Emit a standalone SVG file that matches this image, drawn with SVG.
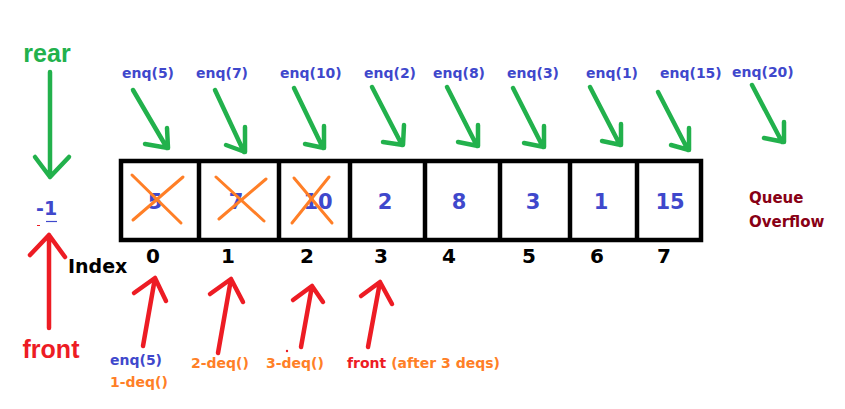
<svg xmlns="http://www.w3.org/2000/svg" width="845" height="409" viewBox="0 0 845 409">
<style>
.dv{font-family:"DejaVu Sans",sans-serif;font-weight:bold}
.lb{font-family:"Liberation Sans",Arial,sans-serif;font-weight:bold}
.blue{fill:#3F48CC}
.orange{fill:#FF7F27}
.red{fill:#ED1C24}
.green{fill:#22B14C}
.dred{fill:#880015}
.blk{fill:#000}
.g{stroke:#22B14C;stroke-width:4.5;fill:none;stroke-linecap:round;stroke-linejoin:round}
.r{stroke:#ED1C24;stroke-width:4.5;fill:none;stroke-linecap:round;stroke-linejoin:round}
.x{stroke:#FF7F27;stroke-width:3;stroke-linecap:round}
.box{stroke:#000;stroke-width:4.5;fill:none}
</style>
<rect width="845" height="409" fill="#fff"/>

<g id="rear">
<text class="lb green" x="47" y="62" font-size="25" text-anchor="middle">rear</text>
</g>
<g id="front">
<text class="lb red" x="51" y="358" font-size="25" text-anchor="middle">front</text>
</g>
<g id="minus-one">
<text class="dv blue" x="36" y="215" font-size="19">-1</text>
<line x1="46" y1="221.5" x2="57" y2="221.5" stroke="#3F48CC" stroke-width="1.2"/>
<line x1="37" y1="225.5" x2="40" y2="225.5" stroke="#ED1C24" stroke-width="1"/>
</g>
<g id="index-label">
<text class="dv blk" x="68" y="273" font-size="19">Index</text>
</g>

<g id="queue">
<rect class="box" x="121" y="161" width="580" height="79"/>
<line class="box" x1="199" y1="161" x2="199" y2="240"/>
<line class="box" x1="279" y1="161" x2="279" y2="240"/>
<line class="box" x1="350" y1="161" x2="350" y2="240"/>
<line class="box" x1="425" y1="161" x2="425" y2="240"/>
<line class="box" x1="500" y1="161" x2="500" y2="240"/>
<line class="box" x1="570" y1="161" x2="570" y2="240"/>
<line class="box" x1="637" y1="161" x2="637" y2="240"/>
</g>
<g id="cell0">
<text class="dv blue" x="155" y="209" font-size="21" text-anchor="middle">5</text>
<line class="x" x1="132" y1="175" x2="181" y2="223"/>
<line class="x" x1="133" y1="220" x2="183" y2="177"/>
</g>
<g id="cell1">
<text class="dv blue" x="236" y="209" font-size="21" text-anchor="middle">7</text>
<line class="x" x1="216" y1="177" x2="264" y2="221"/>
<line class="x" x1="219" y1="219" x2="266" y2="179"/>
</g>
<g id="cell2">
<text class="dv blue" x="318" y="209" font-size="21" text-anchor="middle">10</text>
<line class="x" x1="294" y1="178" x2="332" y2="223"/>
<line class="x" x1="292" y1="223" x2="329" y2="177"/>
</g>
<g id="cell3"><text class="dv blue" x="385" y="209" font-size="21" text-anchor="middle">2</text></g>
<g id="cell4"><text class="dv blue" x="459" y="209" font-size="21" text-anchor="middle">8</text></g>
<g id="cell5"><text class="dv blue" x="533" y="209" font-size="21" text-anchor="middle">3</text></g>
<g id="cell6"><text class="dv blue" x="601" y="209" font-size="21" text-anchor="middle">1</text></g>
<g id="cell7"><text class="dv blue" x="670" y="209" font-size="21" text-anchor="middle">15</text></g>

<g id="indices" class="dv blk" font-size="20" text-anchor="middle">
<text x="153" y="263">0</text>
<text x="228" y="263">1</text>
<text x="307" y="263">2</text>
<text x="381" y="263">3</text>
<text x="449" y="263">4</text>
<text x="529" y="263">5</text>
<text x="597" y="263">6</text>
<text x="664" y="263">7</text>
</g>

<g id="overflow">
<text class="dv dred" x="749" y="203" font-size="15">Queue</text>
<text class="dv dred" x="749" y="227" font-size="15">Overflow</text>
</g>

<g id="enq-labels" class="dv blue" font-size="14">
<text x="122" y="78">enq(5)</text>
<text x="196" y="78">enq(7)</text>
<text x="280" y="78">enq(10)</text>
<text x="364" y="78">enq(2)</text>
<text x="433" y="78">enq(8)</text>
<text x="507" y="78">enq(3)</text>
<text x="586" y="78">enq(1)</text>
<text x="660" y="78">enq(15)</text>
<text x="732" y="77">enq(20)</text>
</g>

<g id="bottom-labels" class="dv" font-size="14">
<text class="blue" x="110" y="365">enq(5)</text>
<text class="orange" x="110" y="387">1-deq()</text>
<text class="orange" x="191" y="368">2-deq()</text>
<text class="orange" x="266" y="368">3-deq()</text>
<text x="347" y="368"><tspan class="red">front</tspan><tspan class="orange"> (after 3 deqs)</tspan></text>
</g>

<g id="connectors">
<path class="g" d="M50 72 L50 177 M35 157 L50 177 L69 157"/>
<path class="r" d="M49 328 L49 235 M30 255 L49 235 L65 257"/>

<path class="g" d="M133 90 L167 148 M167 128 L168 148 L145 144"/>
<path class="g" d="M215 90 L244 152 M245 127 L245 152 L226 145"/>
<path class="g" d="M294 88 L323 148 M324 126 L324 148 L305 144"/>
<path class="g" d="M372 87 L402 145 M404 125 L403 145 L383 142"/>
<path class="g" d="M447 87 L477 146 M478 125 L478 146 L458 142"/>
<path class="g" d="M513 88 L543 147 M544 126 L544 147 L524 143"/>
<path class="g" d="M590 87 L620 145 M621 124 L621 145 L602 141"/>
<path class="g" d="M658 92 L688 150 M689 128 L689 150 L671 145"/>
<path class="g" d="M752 85 L782 142 M784 122 L784 142 L764 138"/>

<path class="r" d="M143 346 L155 278 M134 293 L155 278 L166 301"/>
<path class="r" d="M218 353 L231 279 M210 294 L231 279 L243 302"/>
<path class="r" d="M301 347 L312 286 M293 300 L312 286 L323 302"/>
<path class="r" d="M368 347 L380 282 M361 296 L380 282 L392 304"/>
<circle cx="287" cy="351" r="1.2" fill="#ED1C24"/>
</g>
</svg>
